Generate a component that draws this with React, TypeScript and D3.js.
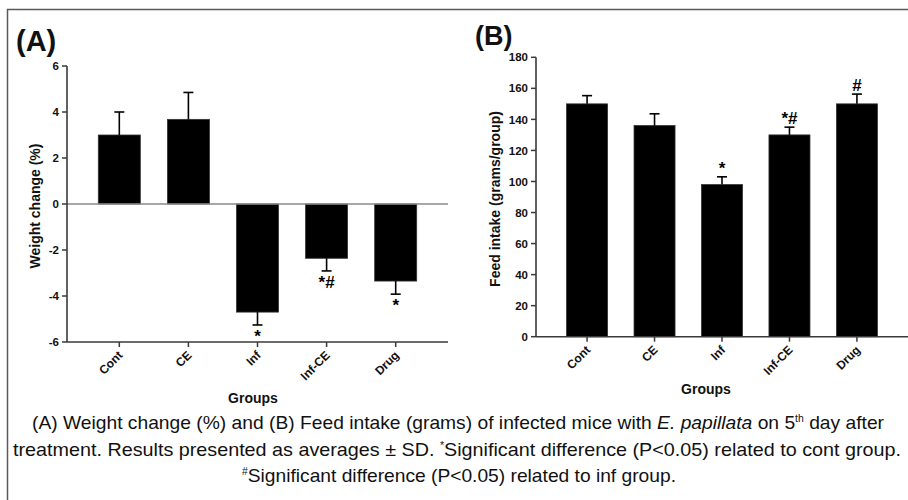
import React from "react";
import * as d3 from "d3";

const groups = ["Cont", "CE", "Inf", "Inf-CE", "Drug"];
const weightChange = [3.0, 3.68, -4.7, -2.36, -3.35];
const weightSD = [1.0, 1.17, 0.56, 0.55, 0.57];
const weightMarks = ["", "", "*", "*#", "*"];
const weightTicks = [-6, -4, -2, 0, 2, 4, 6];

const feedIntake = [150, 136, 98, 130, 150];
const feedSD = [5.3, 7.6, 5.0, 5.0, 6.3];
const feedMarks = ["", "", "*", "*#", "#"];
const feedTicks = [0, 20, 40, 60, 80, 100, 120, 140, 160, 180];

const FONT = "Liberation Sans, Arial, sans-serif";
const AXIS = "#3a3a3a";

type PanelProps = {
  values: number[];
  sds: number[];
  marks: string[];
  ticks: number[];
  domain: [number, number];
  xRange: [number, number];
  yRange: [number, number];
  title: string;
  titleX: number;
  groupsX: number;
  groupsY: number;
  zeroLine: boolean;
};

function Panel(p: PanelProps) {
  const x = d3
    .scaleBand<string>()
    .domain(groups)
    .range(p.xRange)
    .paddingInner(0.392)
    .paddingOuter(0.453);
  const y = d3.scaleLinear().domain(p.domain).range(p.yRange);
  const axisY = p.yRange[0];
  const axisX = p.xRange[0];
  const y0 = y(0);
  return (
    <g>
      {groups.map((g, i) => {
        const v = p.values[i];
        const top = Math.min(y(v), y0);
        const h = Math.abs(y(v) - y0);
        return <rect key={g} x={x(g)} y={top} width={x.bandwidth()} height={h} fill="#000" stroke="#333" strokeWidth={0.8} />;
      })}
      {groups.map((g, i) => {
        const v = p.values[i];
        const cx = (x(g) as number) + x.bandwidth() / 2;
        const end = v >= 0 ? v + p.sds[i] : v - p.sds[i];
        return (
          <g key={g} stroke="#000" strokeWidth={1.6}>
            <line x1={cx} x2={cx} y1={y(v)} y2={y(end)} />
            <line x1={cx - 5} x2={cx + 5} y1={y(end)} y2={y(end)} />
          </g>
        );
      })}
      {groups.map((g, i) => {
        if (!p.marks[i]) return null;
        const v = p.values[i];
        const cx = (x(g) as number) + x.bandwidth() / 2;
        const end = v >= 0 ? v + p.sds[i] : v - p.sds[i];
        const by = v >= 0 ? y(end) - 3 : y(end) + 17;
        return (
          <text key={g} x={cx} y={by} textAnchor="middle" fontFamily={FONT} fontWeight="bold" fontSize={17} fill="#000">
            {p.marks[i]}
          </text>
        );
      })}
      {p.zeroLine && (
        <line x1={axisX} x2={p.xRange[1]} y1={y0} y2={y0} stroke="#8a8a8a" strokeWidth={1.6} />
      )}
      <line x1={axisX} x2={axisX} y1={p.yRange[1]} y2={axisY} stroke={AXIS} strokeWidth={1.6} />
      {p.ticks.map((t) => (
        <g key={t}>
          <line x1={axisX - 5} x2={axisX} y1={y(t)} y2={y(t)} stroke={AXIS} strokeWidth={1.5} />
          <text x={axisX - 8} y={y(t)} dy="0.36em" textAnchor="end" fontFamily={FONT} fontWeight="bold" fontSize={11.5} fill="#111">
            {t}
          </text>
        </g>
      ))}
      <line x1={axisX} x2={p.xRange[1]} y1={axisY} y2={axisY} stroke={AXIS} strokeWidth={1.6} />
      {groups.map((g) => {
        const cx = (x(g) as number) + x.bandwidth() / 2;
        return (
          <g key={g}>
            <line x1={cx} x2={cx} y1={axisY} y2={axisY + 5} stroke={AXIS} strokeWidth={1.5} />
            <text
              transform={`translate(${cx + 4},${axisY + 14}) rotate(-45)`}
              textAnchor="end"
              fontFamily={FONT}
              fontWeight="bold"
              fontSize={12}
              fill="#111"
            >
              {g}
            </text>
          </g>
        );
      })}
      <text
        transform={`translate(${p.titleX},${(p.yRange[0] + p.yRange[1]) / 2 + 2}) rotate(-90)`}
        textAnchor="middle"
        dy="0.35em"
        fontFamily={FONT}
        fontWeight="bold"
        fontSize={14}
        fill="#111"
      >
        {p.title}
      </text>
      <text x={p.groupsX} y={p.groupsY} textAnchor="middle" fontFamily={FONT} fontWeight="bold" fontSize={14} fill="#111">
        Groups
      </text>
    </g>
  );
}

export default function App() {
  const capStyle = { fontFamily: FONT, fontSize: 18.5, fill: "#111" } as const;
  return (
    <svg width={908} height={500} style={{ position: "absolute", left: 0, top: 0, background: "#fff" }}>
      <rect x={0} y={0} width={908} height={500} fill="#fff" />
      <line x1={7} x2={908} y1={9.5} y2={9.5} stroke="#5a5a5a" strokeWidth={1.5} />
      <line x1={7.5} x2={7.5} y1={9} y2={500} stroke="#5a5a5a" strokeWidth={1.5} />

      <text x={16} y={51} fontFamily={FONT} fontWeight="bold" fontSize={29} fill="#111">(A)</text>
      <text x={475} y={45} fontFamily={FONT} fontWeight="bold" fontSize={27} fill="#111">(B)</text>

      <Panel
        values={weightChange}
        sds={weightSD}
        marks={weightMarks}
        ticks={weightTicks}
        domain={[-6, 6]}
        xRange={[67, 448]}
        yRange={[342, 66]}
        title="Weight change (%)"
        titleX={35}
        groupsX={253}
        groupsY={403}
        zeroLine={true}
      />
      <Panel
        values={feedIntake}
        sds={feedSD}
        marks={feedMarks}
        ticks={feedTicks}
        domain={[0, 180]}
        xRange={[536, 908]}
        yRange={[336.7, 57.3]}
        title="Feed intake (grams/group)"
        titleX={495}
        groupsX={706}
        groupsY={394}
        zeroLine={false}
      />

      <text x={458} y={429} textAnchor="middle" textLength={852} lengthAdjust="spacingAndGlyphs" {...capStyle}>
        (A) Weight change (%) and (B) Feed intake (grams) of infected mice with{" "}
        <tspan fontStyle="italic">E. papillata</tspan> on 5<tspan fontSize={10} dy={-7}>th</tspan>
        <tspan dy={7}> day after</tspan>
      </text>
      <text x={457} y={456} textAnchor="middle" textLength={888} lengthAdjust="spacingAndGlyphs" {...capStyle}>
        treatment. Results presented as averages ± SD. <tspan fontSize={10} dy={-7}>*</tspan>
        <tspan dy={7}>Significant difference (P&lt;0.05) related to cont group.</tspan>
      </text>
      <text x={459} y={482} textAnchor="middle" textLength={434} lengthAdjust="spacingAndGlyphs" {...capStyle}>
        <tspan fontSize={10} dy={-7}>#</tspan>
        <tspan dy={7}>Significant difference (P&lt;0.05) related to inf group.</tspan>
      </text>
    </svg>
  );
}
